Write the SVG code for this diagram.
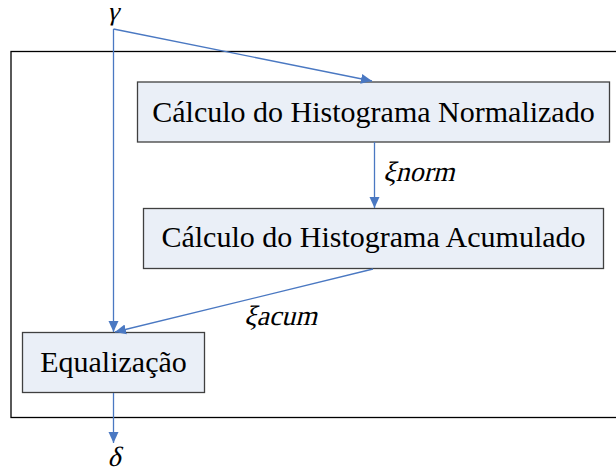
<svg xmlns="http://www.w3.org/2000/svg" width="616" height="472" viewBox="0 0 616 472">
<defs>
<style>
.box{fill:#EAEFF7;stroke:#404040;stroke-width:1.3}
.t{font-family:"Liberation Serif","Times New Roman",serif;font-size:30px;fill:#000;text-anchor:middle}
.m{font-family:"Liberation Serif","Times New Roman",serif;font-size:28px;fill:#000}
.c{fill:none;stroke:#4A78C2;stroke-width:1.3}
</style>
<marker id="ah" markerWidth="12" markerHeight="12" viewBox="0 0 12 12" refX="11" refY="6" orient="auto" markerUnits="userSpaceOnUse">
<path d="M0,1 L11,6 L0,11 Z" fill="#4A78C2"/>
</marker>
</defs>
<rect id="frame" x="11" y="51.5" width="620" height="366" fill="none" stroke="#000" stroke-width="1.3"/>
<g id="n1"><rect class="box" x="137.5" y="82" width="472" height="60"/><text class="t" x="373.5" y="122">Cálculo do Histograma Normalizado</text></g>
<g id="n2"><rect class="box" x="143.5" y="208.5" width="460" height="60"/><text class="t" x="373.5" y="247">Cálculo do Histograma Acumulado</text></g>
<g id="n3"><rect class="box" x="22.5" y="332.5" width="182" height="60"/><text class="t" x="113.5" y="372">Equalização</text></g>
<g id="labels">
<text class="m" transform="translate(113,20) skewX(-14)" text-anchor="middle" style="font-size:26px">γ</text>
<text class="m" transform="translate(114,466) skewX(-14)" text-anchor="middle">δ</text>
<text class="m" transform="translate(383,181) skewX(-14)">ξnorm</text>
<text class="m" transform="translate(244,325) skewX(-14)">ξacum</text>
</g>
<g id="connectors">
<path class="c" d="M113.5,29 L372,81" marker-end="url(#ah)"/>
<path class="c" d="M113.5,29 L113.5,332" marker-end="url(#ah)"/>
<path class="c" d="M374.5,142 L374.5,208" marker-end="url(#ah)"/>
<path class="c" d="M373,269 L115,332" marker-end="url(#ah)"/>
<path class="c" d="M113.5,393 L113.5,443" marker-end="url(#ah)"/>
</g>
</svg>
